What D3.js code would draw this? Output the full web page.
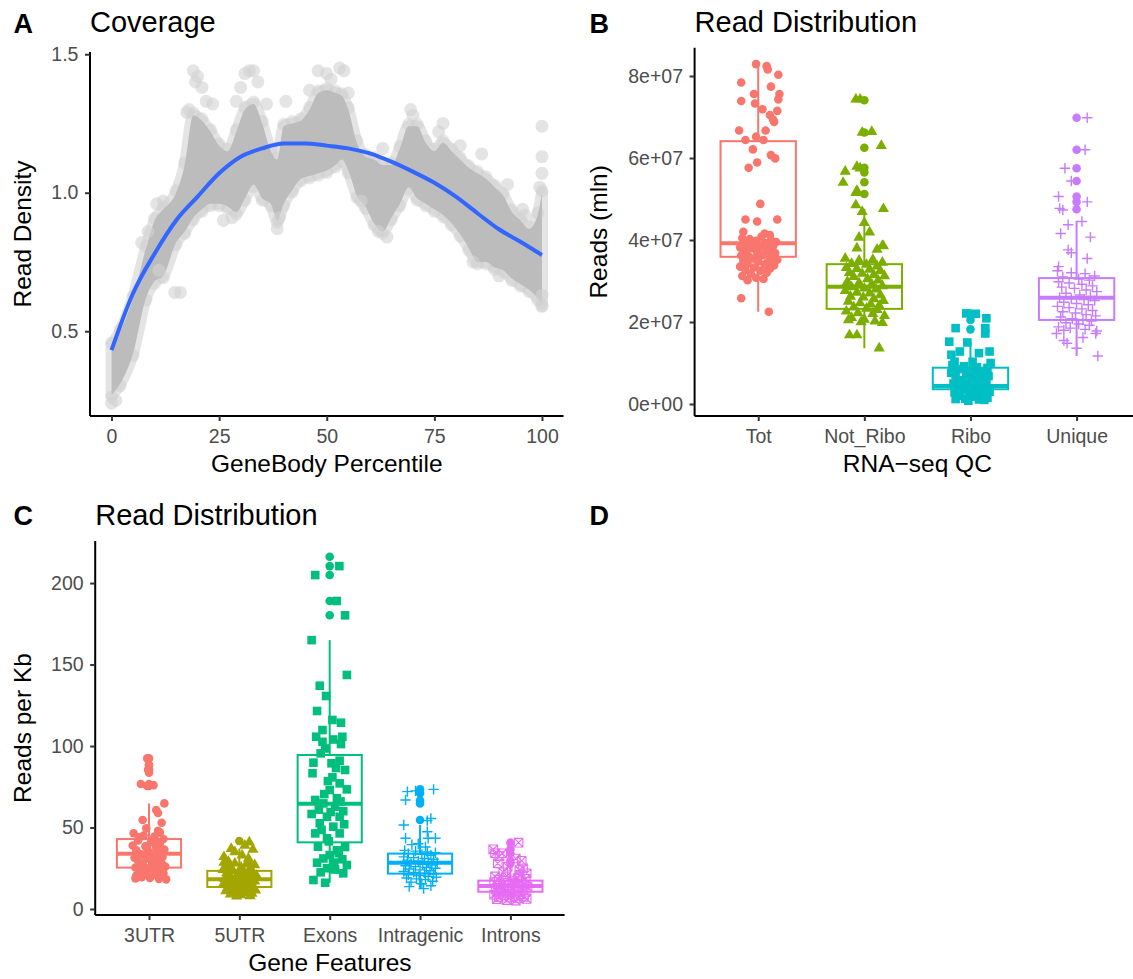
<!DOCTYPE html>
<html>
<head>
<meta charset="utf-8">
<script src="https://cdn.jsdelivr.net/npm/d3@7"></script>
<style>
  body { margin: 0; background: #fff; }
  text { font-family: "Liberation Sans", Arial, Helvetica, sans-serif; }
</style>
</head>
<body>
<script>
// ---------- Panel A: gene body coverage ----------
const pct = [0, 2, 5, 8, 10, 12, 15, 17, 19, 21, 23, 25, 27, 29, 31, 33, 35, 37, 38.5, 40, 42, 44, 46, 48, 50, 52, 53.5, 55, 57, 59, 61, 63, 65, 67, 69, 71, 73, 75, 77, 79, 81, 83, 85, 87, 89, 91, 93, 95, 97, 99, 100];
const covHigh = [0.45, 0.50, 0.62, 0.80, 0.90, 0.94, 1.00, 1.10, 1.28, 1.26, 1.22, 1.17, 1.15, 1.22, 1.30, 1.32, 1.25, 1.15, 1.12, 1.24, 1.25, 1.26, 1.30, 1.36, 1.37, 1.36, 1.35, 1.30, 1.18, 1.13, 1.12, 1.10, 1.10, 1.16, 1.24, 1.24, 1.18, 1.15, 1.18, 1.15, 1.12, 1.09, 1.07, 1.05, 1.02, 0.99, 0.93, 0.90, 0.87, 0.92, 1.00];
const covLow = [0.27, 0.31, 0.42, 0.62, 0.68, 0.70, 0.82, 0.86, 0.91, 0.94, 0.96, 0.96, 0.95, 0.93, 0.98, 1.03, 0.98, 0.96, 0.90, 0.96, 1.01, 1.05, 1.06, 1.07, 1.08, 1.10, 1.12, 1.08, 0.99, 0.95, 0.89, 0.86, 0.91, 0.96, 1.02, 0.98, 0.96, 0.94, 0.92, 0.89, 0.85, 0.80, 0.75, 0.75, 0.73, 0.72, 0.69, 0.67, 0.65, 0.62, 0.60];
const covStray = [[19, 1.44], [20, 1.42], [19.5, 1.40], [21, 1.38], [22, 1.33], [18, 1.30], [17.5, 1.29], [23.5, 1.32], [31, 1.43], [32, 1.44], [33, 1.44], [30, 1.38], [34, 1.40], [29, 1.33], [36, 1.32], [40.5, 1.33], [48, 1.44], [50, 1.43], [53, 1.45], [54, 1.44], [51, 1.41], [46, 1.37], [55, 1.36], [69.5, 1.30], [70, 1.28], [77, 1.25], [81, 1.17], [100, 1.24], [100, 1.13], [100, 1.07], [99.5, 1.02], [14.7, 0.64], [16, 0.64], [11, 0.72], [38.5, 0.87], [39, 0.91], [26, 0.90], [28, 0.91], [62, 0.86], [64, 0.84], [84, 0.75], [90, 0.70], [100, 0.59], [100, 0.63], [1, 0.25], [0, 0.24], [58, 0.97], [12, 0.97], [10.5, 0.96], [7, 0.82], [8.5, 0.86], [63, 1.16], [76, 1.22], [86, 1.14], [92, 1.03], [95.5, 0.94], [96, 0.92]];
const loessPct = [0, 5, 10, 15, 20, 25, 30, 35, 40, 45, 50, 55, 60, 65, 70, 75, 80, 85, 90, 95, 100];
const loessVal = [0.432, 0.637, 0.78, 0.90, 0.986, 1.07, 1.13, 1.16, 1.178, 1.178, 1.17, 1.16, 1.142, 1.112, 1.076, 1.036, 0.986, 0.926, 0.868, 0.823, 0.775];
const aTicksX = [0, 25, 50, 75, 100];
const aTicksY = [0.5, 1.0, 1.5];

// ---------- Panel B: RNA-seq QC (reads, units of 1e7) ----------
const bCats = ["Tot", "Not_Ribo", "Ribo", "Unique"];
const bQ1 = [3.59, 2.32, 0.36, 2.05];
const bMedian = [3.92, 2.86, 0.44, 2.59];
const bQ3 = [6.41, 3.41, 0.885, 3.07];
const bWhiskLo = [2.25, 1.36, 0.08, 1.17];
const bWhiskHi = [8.30, 4.76, 1.52, 4.47];
const bOutliers = [[], [7.41, 6.62, 6.25, 5.76, 5.65, 5.41, 5.12], [2.2, 2.05, 1.82], [6.98, 6.2, 5.75, 5.44, 5.06, 4.93, 4.75]];
const bTicks = [0, 2, 4, 6, 8];
const bTickLabels = ["0e+00", "2e+07", "4e+07", "6e+07", "8e+07"];
// jittered points: [offset in category widths, value]
const totPts = [[-0.02, 8.29], [0.08, 8.24], [0.09, 8.16], [0.19, 8.03], [-0.16, 7.84], [0.12, 7.74], [-0.04, 7.56], [0.2, 7.56], [0.19, 7.43], [-0.16, 7.39], [-0.03, 7.33], [0.04, 7.19], [0.18, 7.15], [0.11, 7.05], [0.14, 6.94], [0.15, 6.88], [-0.18, 6.67], [0.07, 6.67], [-0.02, 6.52], [-0.12, 6.44], [0.05, 6.44], [-0.05, 6.21], [0.12, 6.07], [0.16, 5.99], [-0.01, 5.89], [-0.09, 5.76], [0.02, 4.88], [-0.12, 4.50], [-0.01, 4.45], [0.18, 4.50], [-0.14, 4.20], [0.06, 4.16], [0.11, 4.12], [-0.16, 2.58], [0.1, 2.25],
  [-0.15, 4.05], [-0.08, 4.02], [0.03, 4.08], [0.12, 4.00], [0.17, 3.95], [-0.12, 3.92], [-0.03, 3.90], [0.06, 3.93], [0.14, 3.85], [-0.17, 3.82], [-0.06, 3.80], [0.02, 3.83], [0.10, 3.78], [-0.13, 3.72], [-0.01, 3.70], [0.08, 3.72], [0.16, 3.68], [-0.16, 3.62], [-0.09, 3.60], [0.04, 3.63], [0.12, 3.58], [-0.05, 3.55], [0.18, 3.52], [-0.14, 3.50], [0.00, 3.48], [0.09, 3.46], [-0.10, 3.42], [0.06, 3.40], [0.15, 3.38], [-0.17, 3.35], [-0.04, 3.33], [0.11, 3.30], [-0.12, 3.27], [0.02, 3.25], [-0.07, 3.18], [0.08, 3.20], [-0.15, 3.12], [-0.02, 3.08], [0.05, 3.05], [-0.10, 3.02], [0.13, 3.55], [-0.11, 3.75], [0.07, 3.87], [-0.02, 3.98], [0.15, 3.65]];
const notRiboPts = [[-0.08, 7.43], [-0.04, 7.43], [0.07, 6.64], [-0.02, 6.62], [0.16, 6.30], [-0.18, 5.67], [-0.2, 5.40], [-0.07, 5.79], [-0.04, 5.75], [-0.08, 5.15], [-0.07, 5.2], [0.18, 4.76], [-0.08, 4.85], [-0.02, 4.69], [0.0, 4.42], [0.05, 4.19], [-0.05, 4.06], [0.17, 3.86], [0.12, 3.77], [-0.07, 3.80], [0.18, 3.85], [-0.14, 1.68], [-0.07, 1.68], [0.14, 1.36],
  [-0.18, 3.55], [-0.05, 3.50], [0.08, 3.52], [0.17, 3.45], [-0.12, 3.42], [0.02, 3.40], [0.12, 3.36], [-0.17, 3.32], [-0.07, 3.30], [0.05, 3.28], [0.15, 3.25], [-0.14, 3.20], [-0.02, 3.18], [0.09, 3.15], [0.19, 3.12], [-0.10, 3.10], [0.03, 3.05], [0.13, 3.02], [-0.16, 2.98], [-0.05, 2.95], [0.07, 2.92], [0.17, 2.88], [-0.12, 2.85], [0.00, 2.82], [0.11, 2.80], [-0.18, 2.76], [-0.07, 2.72], [0.05, 2.70], [0.15, 2.66], [-0.13, 2.62], [-0.01, 2.60], [0.09, 2.56], [0.18, 2.52], [-0.15, 2.50], [-0.04, 2.46], [0.06, 2.43], [0.14, 2.40], [-0.10, 2.36], [0.02, 2.33], [0.12, 2.30], [-0.17, 2.26], [-0.06, 2.22], [0.08, 2.20], [0.19, 2.15], [-0.12, 2.10], [0.00, 2.06], [0.10, 2.02], [0.17, 1.98], [-0.03, 2.00], [-0.15, 2.05]];
const riboPts = [[0.05, 2.2], [-0.04, 2.21], [0.15, 2.09], [-0.14, 1.85], [0.14, 1.85], [0.14, 1.72], [-0.2, 1.52], [-0.03, 1.5], [-0.1, 1.28], [0.18, 1.28], [-0.18, 1.2], [0.08, 1.24], [-0.15, 1.03], [0.19, 1.0], [0.02, 1.03],
  [-0.17, 0.95], [-0.06, 0.92], [0.06, 0.90], [0.16, 0.88], [-0.12, 0.85], [0.02, 0.82], [0.11, 0.80], [-0.18, 0.76], [-0.04, 0.74], [0.08, 0.72], [0.17, 0.68], [-0.14, 0.66], [0.00, 0.63], [0.12, 0.60], [-0.09, 0.58], [0.05, 0.55], [0.15, 0.52], [-0.16, 0.50], [-0.03, 0.48], [0.09, 0.45], [-0.12, 0.42], [0.03, 0.40], [0.14, 0.38], [-0.07, 0.35], [0.07, 0.32], [0.18, 0.30], [-0.15, 0.28], [-0.01, 0.25], [0.10, 0.22], [-0.10, 0.20], [0.04, 0.18], [0.16, 0.15], [-0.05, 0.13], [0.08, 0.11], [-0.14, 0.12], [0.13, 0.10], [-0.08, 0.55], [0.01, 0.70], [0.11, 0.35], [-0.02, 0.08]];
const uniquePts = [[0.1, 6.98], [0.08, 6.2], [-0.11, 5.75], [-0.05, 5.44], [-0.17, 5.06], [0.1, 4.93], [-0.16, 4.77], [-0.13, 4.73], [-0.08, 4.37], [0.05, 4.45], [-0.15, 4.16], [0.13, 4.07], [-0.08, 3.76], [-0.05, 3.69], [0.1, 3.55], [-0.17, 3.35], [-0.19, 1.72], [-0.09, 1.48], [0.0, 1.36], [0.18, 1.72], [0.2, 1.17], [-0.12, 1.55], [0.06, 1.62],
  [-0.18, 3.25], [-0.05, 3.20], [0.08, 3.18], [0.17, 3.12], [-0.13, 3.10], [0.02, 3.05], [0.12, 3.02], [-0.17, 2.98], [-0.07, 2.95], [0.05, 2.92], [0.15, 2.88], [-0.14, 2.85], [-0.02, 2.82], [0.09, 2.78], [0.19, 2.74], [-0.10, 2.70], [0.03, 2.66], [0.13, 2.62], [-0.16, 2.60], [-0.05, 2.57], [0.07, 2.55], [0.17, 2.52], [-0.12, 2.48], [0.00, 2.45], [0.11, 2.42], [-0.18, 2.38], [-0.07, 2.35], [0.05, 2.32], [0.15, 2.28], [-0.13, 2.25], [-0.01, 2.22], [0.09, 2.18], [0.18, 2.15], [-0.15, 2.12], [-0.04, 2.08], [0.06, 2.05], [0.14, 2.02], [-0.10, 1.98], [0.02, 1.95], [0.12, 1.92], [-0.17, 1.88], [-0.06, 1.85], [0.08, 1.82], [0.19, 1.78], [-0.12, 1.80]];

// ---------- Panel C: reads per Kb by gene feature ----------
const cCats = ["3UTR", "5UTR", "Exons", "Intragenic", "Introns"];
const cQ1 = [25.4, 13.5, 40.9, 21.7, 10.6];
const cMedian = [33.9, 18.3, 64.6, 28.4, 14.1];
const cQ3 = [42.9, 23.4, 94.5, 34.0, 17.4];
const cWhiskLo = [18.2, 7.8, 16.1, 12.5, 5.2];
const cWhiskHi = [64.8, 37.0, 165, 51.5, 26.0];
const cOutliers = [[92.4, 88.3, 85.8, 83.6, 76.7, 75.5], [41.7], [216.1, 210.4, 204.9, 189, 180.2], [73.4, 71.0, 66.5, 64.7, 54.6], [40.7, 36.6, 34.2, 29.6, 28.0]];
const cTicks = [0, 50, 100, 150, 200];
const utr3Pts = [[-0.02, 92.4], [0.0, 88.3], [-0.01, 85.5], [-0.09, 76.7], [-0.02, 75.5], [0.05, 76.0], [0.17, 64.8], [0.08, 60.7], [0.10, 58.9], [-0.07, 54.6], [0.14, 52.9], [-0.03, 49.5], [0.10, 48.0],
  [-0.17, 46.5], [-0.06, 45.0], [0.06, 44.5], [0.16, 43.0], [-0.12, 42.0], [0.02, 41.0], [0.12, 40.0], [-0.18, 39.0], [-0.04, 38.5], [0.08, 37.5], [0.17, 36.5], [-0.14, 36.0], [0.00, 35.0], [0.11, 34.5], [-0.09, 33.5], [0.05, 33.0], [0.15, 32.0], [-0.16, 31.5], [-0.03, 31.0], [0.09, 30.0], [-0.12, 29.5], [0.03, 29.0], [0.14, 28.0], [-0.07, 27.5], [0.07, 27.0], [0.18, 26.0], [-0.15, 25.5], [-0.01, 25.0], [0.10, 24.0], [-0.10, 23.5], [0.04, 23.0], [0.16, 22.0], [-0.05, 21.5], [0.08, 21.0], [-0.14, 20.5], [0.13, 20.0], [-0.08, 19.5], [0.01, 19.0], [0.11, 18.5], [-0.15, 18.8], [0.19, 18.2], [-0.02, 37.0], [0.06, 40.5], [-0.11, 44.0], [0.12, 47.0]];
const utr5Pts = [[0.11, 41.0], [0.06, 39.0], [-0.09, 37.0], [-0.05, 35.0], [0.15, 36.5], [-0.17, 32.0], [0.03, 33.0], [0.10, 31.0], [-0.12, 29.0],
  [-0.17, 28.5], [-0.05, 28.0], [0.08, 27.5], [0.17, 27.0], [-0.13, 26.0], [0.02, 25.5], [0.12, 25.0], [-0.18, 24.0], [-0.07, 23.5], [0.05, 23.0], [0.15, 22.5], [-0.14, 22.0], [-0.02, 21.5], [0.09, 21.0], [0.19, 20.5], [-0.10, 20.0], [0.03, 19.5], [0.13, 19.0], [-0.16, 18.5], [-0.05, 18.0], [0.07, 17.5], [0.17, 17.0], [-0.12, 16.5], [0.00, 16.0], [0.11, 15.5], [-0.18, 15.0], [-0.07, 14.5], [0.05, 14.0], [0.15, 13.5], [-0.13, 13.0], [-0.01, 12.5], [0.09, 12.0], [0.18, 11.5], [-0.15, 11.0], [-0.04, 10.5], [0.06, 10.0], [0.14, 9.5], [-0.10, 9.0], [0.02, 8.5], [0.12, 8.0], [-0.06, 12.0], [0.04, 20.5], [-0.09, 25.0], [0.10, 29.5], [-0.03, 7.8]];
const exonPts = [[0.107, 210.4], [-0.16, 204.9], [0.077, 189], [0.17, 180.2], [-0.2, 165], [0.19, 143.6], [-0.11, 137], [-0.04, 130.7], [-0.14, 121.5], [0.03, 116], [0.125, 114.3], [-0.08, 109.8], [-0.15, 105.7], [0.14, 105.7], [-0.08, 102.6], [0.04, 104], [0.125, 101.2], [-0.1, 95.5], [0.11, 91], [-0.18, 89.8], [0.02, 89.4], [0.17, 85.3], [0.03, 80.8], [-0.19, 83.3], [0.11, 77.1], [0.19, 73.4], [0.0, 73], [-0.16, 66.9], [-0.07, 64.8], [0.06, 62.8], [-0.2, 58.3], [-0.03, 56.6], [0.11, 56.6], [-0.11, 52.6], [0.04, 50.5], [0.11, 46.4], [-0.16, 46.4], [-0.03, 43.4], [-0.13, 38.2], [0.17, 38], [0.0, 33.1], [0.1, 34.2], [0.14, 30.5], [-0.14, 28.4], [0.19, 27], [-0.03, 25], [0.06, 24.2], [0.15, 21.9], [-0.18, 17.8], [-0.05, 16.1],
  [-0.06, 70.5], [0.08, 68.0], [-0.12, 61.0], [0.15, 60.0], [0.01, 59.5], [-0.09, 48.5], [0.16, 52.0], [-0.01, 41.5], [0.08, 36.0], [-0.07, 31.0], [0.05, 28.5], [-0.1, 22.5], [0.12, 66.0], [-0.02, 78.5], [0.07, 86.5], [-0.05, 98.5]];
const intraPts = [[-0.14, 72.0], [0.15, 73.4], [-0.16, 66.9], [0.08, 54.2], [-0.18, 51.5], [-0.16, 43.4], [0.09, 43.4], [0.17, 43.4], [0.08, 47.4], [-0.05, 72.5], [0.12, 55.5],
  [-0.17, 36.0], [-0.05, 35.5], [0.08, 35.0], [0.17, 34.5], [-0.13, 34.0], [0.02, 33.5], [0.12, 33.0], [-0.18, 32.0], [-0.07, 31.5], [0.05, 31.0], [0.15, 30.5], [-0.14, 30.0], [-0.02, 29.5], [0.09, 29.0], [0.19, 28.5], [-0.10, 28.0], [0.03, 27.5], [0.13, 27.0], [-0.16, 26.5], [-0.05, 26.0], [0.07, 25.5], [0.17, 25.0], [-0.12, 24.5], [0.00, 24.0], [0.11, 23.5], [-0.18, 23.0], [-0.07, 22.5], [0.05, 22.0], [0.15, 21.5], [-0.13, 21.0], [-0.01, 20.5], [0.09, 20.0], [0.18, 19.5], [-0.15, 19.0], [-0.04, 18.5], [0.06, 18.0], [0.14, 17.0], [-0.10, 16.5], [0.02, 15.5], [0.12, 14.3], [-0.12, 13.7], [0.04, 12.5], [-0.02, 40.0], [0.06, 38.0], [-0.09, 39.5]];
const intronPts = [[0.09, 40.7], [-0.19, 36.6], [-0.17, 34.2], [-0.09, 34.2], [-0.14, 28.0], [0.125, 29.6], [0.1, 23.9], [0.18, 21.9],
  [-0.17, 20.0], [-0.05, 19.5], [0.08, 19.0], [0.17, 18.5], [-0.13, 18.0], [0.02, 17.5], [0.12, 17.0], [-0.18, 16.5], [-0.07, 16.0], [0.05, 15.5], [0.15, 15.0], [-0.14, 14.8], [-0.02, 14.5], [0.09, 14.0], [0.19, 13.5], [-0.10, 13.0], [0.03, 12.7], [0.13, 12.3], [-0.16, 12.0], [-0.05, 11.5], [0.07, 11.0], [0.17, 10.5], [-0.12, 10.0], [0.00, 9.5], [0.11, 9.0], [-0.18, 8.8], [-0.07, 8.5], [0.05, 8.0], [0.15, 7.5], [-0.13, 7.2], [-0.01, 7.0], [0.09, 6.5], [0.18, 6.2], [-0.15, 6.0], [-0.04, 5.5], [0.06, 5.2], [-0.10, 11.3], [0.03, 16.3], [0.10, 21.0], [-0.08, 22.5], [0.14, 25.0], [-0.03, 26.0], [0.06, 31.0], [-0.12, 32.5]];

// ---------- styling ----------
const bColors = ["#F8766D", "#7CAE00", "#00BFC4", "#C77CFF"];
const cColors = ["#F8766D", "#A3A500", "#00BF7D", "#00B0F6", "#E76BF3"];
const TICK_FS = "19.5px", AXT_FS = "24.5px", TITLE_FS = "29px", TAG_FS = "27px";

const svg = d3.select("body").append("svg")
  .attr("width", 1133).attr("height", 979)
  .style("background", "#fff");

function shapePath(kind) {
  if (kind === "circle") return d3.symbol(d3.symbolCircle, 58)();
  if (kind === "triangle") return d3.symbol(d3.symbolTriangle, 54)();
  if (kind === "square") return d3.symbol(d3.symbolSquare, 74)();
  if (kind === "plus") return "M-5.2,0H5.2M0,-5.2V5.2";
  if (kind === "boxx") return "M-4.3,-4.3H4.3V4.3H-4.3ZM-4.3,-4.3L4.3,4.3M4.3,-4.3L-4.3,4.3";
}

function drawAxes(g, x, y, opt) {
  // axis lines
  g.append("line").attr("x1", opt.left).attr("x2", opt.left)
    .attr("y1", opt.top).attr("y2", opt.bottom)
    .attr("stroke", "#000").attr("stroke-width", 2);
  g.append("line").attr("x1", opt.left).attr("x2", opt.right)
    .attr("y1", opt.bottom).attr("y2", opt.bottom)
    .attr("stroke", "#000").attr("stroke-width", 2);

  const yAxis = g.append("g").attr("transform", `translate(${opt.left},0)`)
    .call(d3.axisLeft(y).tickValues(opt.yTicks).tickFormat(opt.yFormat)
      .tickSize(5).tickPadding(6.6));
  const xAxis = g.append("g").attr("transform", `translate(0,${opt.bottom})`)
    .call(d3.axisBottom(x).tickValues(opt.xTicks).tickSize(5).tickPadding(8.5));
  [yAxis, xAxis].forEach(a => {
    a.select(".domain").remove();
    a.selectAll(".tick line").attr("stroke", "#333").attr("stroke-width", 2);
    a.selectAll(".tick text").attr("fill", "#4D4D4D")
      .style("font-size", TICK_FS).style("font-family", "Liberation Sans, Arial, sans-serif");
  });

  g.append("text").attr("x", (opt.left + opt.right) / 2).attr("y", opt.bottom + 56)
    .attr("text-anchor", "middle").style("font-size", AXT_FS).text(opt.xTitle);
  g.append("text")
    .attr("transform", `translate(${opt.yTitleX},${(opt.top + opt.bottom) / 2}) rotate(-90)`)
    .attr("text-anchor", "middle").style("font-size", AXT_FS).text(opt.yTitle);
  g.append("text").attr("x", opt.left).attr("y", opt.titleY)
    .style("font-size", TITLE_FS).text(opt.title);
}

function tag(label, x, y) {
  svg.append("text").attr("x", x).attr("y", y)
    .style("font-size", TAG_FS).style("font-weight", "bold").text(label);
}

// ================= Panel A =================
(function () {
  const left = 90, right = 563.5, top = 52, bottom = 416;
  const g = svg.append("g");
  const x = d3.scaleLinear().domain([-5, 105]).range([left, right]);
  const y = d3.scaleLinear().domain([0.194, 1.508]).range([bottom, top]);

  const idx = d3.range(pct.length);
  const band = d3.area().x(i => x(pct[i])).y0(i => y(covLow[i])).y1(i => y(covHigh[i]))
    .curve(d3.curveMonotoneX);

  // soft halo of faint points, then the dense body of the cloud
  g.append("path").attr("d", band(idx)).attr("fill", "#dddddd")
    .attr("stroke", "#e4e4e4").attr("stroke-width", 12).attr("stroke-linejoin", "round");
  g.selectAll(".edgeHi").data(idx).join("circle")
    .attr("cx", i => x(pct[i])).attr("cy", i => y(covHigh[i]) - 2).attr("r", 6.5)
    .attr("fill", "#cccccc").attr("opacity", 0.45);
  g.selectAll(".edgeLo").data(idx).join("circle")
    .attr("cx", i => x(pct[i])).attr("cy", i => y(covLow[i]) + 2).attr("r", 6.5)
    .attr("fill", "#cccccc").attr("opacity", 0.45);
  g.append("path").attr("d", band(idx)).attr("fill", "#bcbcbc");
  g.selectAll(".stray").data(covStray).join("circle")
    .attr("cx", d => x(d[0])).attr("cy", d => y(d[1])).attr("r", 6.5)
    .attr("fill", "#d2d2d2").attr("opacity", 0.6);

  const line = d3.line().x(i => x(loessPct[i])).y(i => y(loessVal[i])).curve(d3.curveMonotoneX);
  g.append("path").attr("d", line(d3.range(loessPct.length)))
    .attr("fill", "none").attr("stroke", "#3366FF").attr("stroke-width", 4);

  drawAxes(g, x, y, {
    left, right, top, bottom,
    xTicks: aTicksX, yTicks: aTicksY, yFormat: d3.format(".1f"),
    xTitle: "GeneBody Percentile", yTitle: "Read Density", yTitleX: 31,
    title: "Coverage", titleY: 32
  });
  tag("A", 13.5, 33);
})();

// ============ box + jitter panels ============
function boxPanel(o) {
  const g = svg.append("g");
  const x = d3.scalePoint().domain(o.cats).range([o.first, o.last]);
  const y = d3.scaleLinear().domain(o.yDomain).range([o.bottom, o.top]);
  const step = x.step();
  const bw = 0.71 * step;

  o.cats.forEach((c, i) => {
    const cx = x(c), col = o.colors[i];
    const bg = g.append("g");
    bg.append("line").attr("x1", cx).attr("x2", cx)
      .attr("y1", y(o.q3[i])).attr("y2", y(o.hi[i])).attr("stroke", col).attr("stroke-width", 2);
    bg.append("line").attr("x1", cx).attr("x2", cx)
      .attr("y1", y(o.q1[i])).attr("y2", y(o.lo[i])).attr("stroke", col).attr("stroke-width", 2);
    bg.append("rect").attr("x", cx - bw / 2).attr("width", bw)
      .attr("y", y(o.q3[i])).attr("height", y(o.q1[i]) - y(o.q3[i]))
      .attr("fill", "#fff").attr("stroke", col).attr("stroke-width", 2);
    bg.append("line").attr("x1", cx - bw / 2).attr("x2", cx + bw / 2)
      .attr("y1", y(o.med[i])).attr("y2", y(o.med[i])).attr("stroke", col).attr("stroke-width", 4);
    bg.selectAll(".out").data(o.outliers[i]).join("circle")
      .attr("cx", cx).attr("cy", d => y(d)).attr("r", 4.3).attr("fill", col);
  });

  o.cats.forEach((c, i) => {
    const cx = x(c), col = o.colors[i], kind = o.shapes[i];
    const outline = kind === "plus" || kind === "boxx";
    g.append("g").selectAll("path").data(o.points[i]).join("path")
      .attr("transform", d => `translate(${cx + d[0] * step},${y(d[1])})`)
      .attr("d", shapePath(kind))
      .attr("fill", outline ? "none" : col)
      .attr("stroke", outline ? col : "none")
      .attr("stroke-width", kind === "plus" ? 1.4 : 1.1);
  });

  drawAxes(g, x, y, {
    left: o.left, right: o.right, top: o.top, bottom: o.bottom,
    xTicks: o.cats, yTicks: o.yTicks, yFormat: o.yFormat,
    xTitle: o.xTitle, yTitle: o.yTitle, yTitleX: o.yTitleX,
    title: o.title, titleY: o.titleY
  });
}

// ================= Panel B =================
boxPanel({
  cats: bCats, colors: bColors, shapes: ["circle", "triangle", "square", "plus"],
  q1: bQ1, med: bMedian, q3: bQ3, lo: bWhiskLo, hi: bWhiskHi, outliers: bOutliers,
  points: [totPts, notRiboPts, riboPts, uniquePts],
  left: 694.6, right: 1140, top: 47.7, bottom: 416, first: 758.2, last: 1076.6,
  yDomain: [-0.293, 8.69], yTicks: bTicks, yFormat: (d, i) => bTickLabels[i],
  xTitle: "RNA\u2212seq QC", yTitle: "Reads (mln)", yTitleX: 607,
  title: "Read Distribution", titleY: 32
});
tag("B", 589.5, 33);

// ================= Panel C =================
boxPanel({
  cats: cCats, colors: cColors, shapes: ["circle", "triangle", "square", "plus", "boxx"],
  q1: cQ1, med: cMedian, q3: cQ3, lo: cWhiskLo, hi: cWhiskHi, outliers: cOutliers,
  points: [utr3Pts, utr5Pts, exonPts, intraPts, intronPts],
  left: 95.2, right: 564.6, top: 541, bottom: 915, first: 149, last: 510.4,
  yDomain: [-3.68, 225.8], yTicks: cTicks, yFormat: d3.format("d"),
  xTitle: "Gene Features", yTitle: "Reads per Kb", yTitleX: 31,
  title: "Read Distribution", titleY: 525
});
tag("C", 13.5, 525);

// ================= Panel D (empty) =================
tag("D", 589.5, 525);
</script>
</body>
</html>
